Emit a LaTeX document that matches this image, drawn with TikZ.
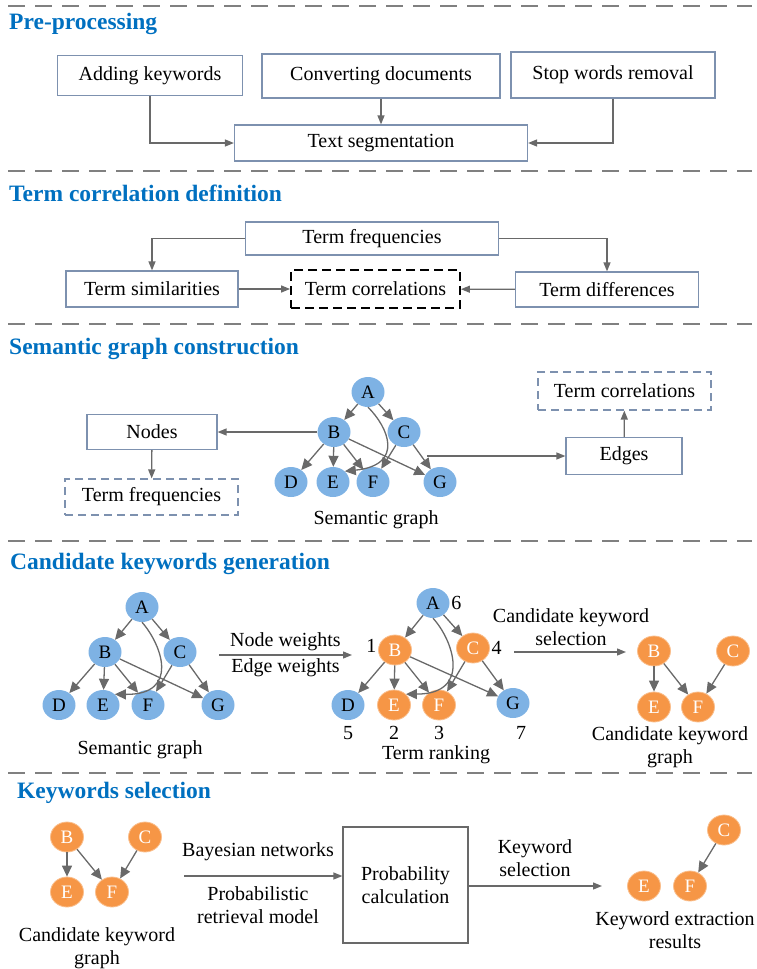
\documentclass[tikz,border=0pt]{standalone}
\usepackage{fontspec}
\IfFontExistsTF{LiberationSerif-Regular.ttf}
  {\setmainfont{LiberationSerif-Regular.ttf}[BoldFont=LiberationSerif-Bold.ttf]}
  {\setmainfont{Liberation Serif}}
\usepackage{tikz}
\usetikzlibrary{arrows.meta,positioning,calc,shapes.geometric}
\usepackage{xcolor}
\definecolor{headblue}{RGB}{0,112,192}
\definecolor{boxline}{RGB}{125,145,175}
\definecolor{arrowgrey}{RGB}{105,105,105}
\definecolor{sepgrey}{RGB}{128,128,128}
\definecolor{nodeblue}{RGB}{126,178,228}
\definecolor{nodeorange}{RGB}{246,150,70}
\definecolor{orangerim}{RGB}{250,190,140}
\newcommand{\bodytxt}{\rmfamily\fontsize{20}{23.5}\selectfont}
\newcommand{\headtxt}{\rmfamily\fontsize{23.5}{27}\selectfont\bfseries}
\newcommand{\nodetxt}{\rmfamily\fontsize{19}{22}\selectfont}

\begin{document}
\begin{tikzpicture}[x=1pt, y=-1pt,
    box/.style={rectangle, draw=boxline, line width=1.2pt, inner sep=0pt, align=center, font=\bodytxt},
    dbox/.style={box, dash pattern=on 8pt off 5pt},
    head/.style={anchor=base west, inner sep=0pt, font=\headtxt, text=headblue},
    lbl/.style={inner sep=0pt, align=center, font=\bodytxt},
    gnode/.style={ellipse, minimum width=33pt, minimum height=30pt, inner sep=0pt, font=\nodetxt},
    bnode/.style={gnode, fill=nodeblue},
    onode/.style={gnode, fill=nodeorange, draw=orangerim, line width=0.8pt, text=white},
    rank/.style={font=\bodytxt, inner sep=1.5pt},
    arrow/.style={-{Triangle[length=9pt,width=7pt]}, line width=1.3pt, draw=arrowgrey},
    edge/.style={-{Triangle[length=11pt,width=10pt]}, line width=1.3pt, draw=arrowgrey},
    sepline/.style={draw=sepgrey, line width=2pt, dash pattern=on 17pt off 10pt}
]
\useasboundingbox (0,0) rectangle (756,969);

% separators
\draw[sepline] (8,6) -- (752,6);
\draw[sepline] (8,171) -- (752,171);
\draw[sepline] (8,324) -- (752,324);
\draw[sepline] (8,541) -- (752,541);
\draw[sepline] (8,773) -- (752,773);

% Pre-processing
\node[head] (h1) at (9,29) {Pre-processing};
\node[box, minimum width=185pt, minimum height=40pt] (addkw) at (150,75.5) {Adding keywords};
\node[box, minimum width=238pt, minimum height=44pt] (convdoc) at (381,76) {Converting documents};
\node[box, minimum width=204pt, minimum height=46pt] (stopw) at (613,75) {Stop words removal};
\node[box, minimum width=293pt, minimum height=36pt] (textseg) at (381,143) {Text segmentation};

\draw[arrow] (addkw) |- (textseg);
\draw[arrow] (convdoc) -- (textseg);
\draw[arrow] (stopw) |- (textseg);

% Term correlation definition
\node[head] (h2) at (9,201) {Term correlation definition};
\node[box, minimum width=253pt, minimum height=33pt] (termfreq) at (372,238.5) {Term frequencies};
\node[box, minimum width=172pt, minimum height=36pt] (termsim) at (152,289) {Term similarities};
\node[box, draw=black, line width=1.8pt, dash pattern=on 9pt off 5pt, minimum width=169pt, minimum height=38pt] (termcor) at (375.5,289) {Term correlations};
\node[box, minimum width=183pt, minimum height=35pt] (termdiff) at (607,289.5) {Term differences};

\draw[arrow] (termfreq.west) -| (termsim.north);
\draw[arrow] (termfreq.east) -| (termdiff.north);
\draw[arrow] (termsim) -- (termcor);
\draw[arrow] (termdiff) -- (termcor);

% Semantic graph construction
\node[head] (h3) at (9,354) {Semantic graph construction};
\node[bnode] (sA) at (368,392) {A};
\node[bnode] (sB) at (334,432) {B};
\node[bnode] (sC) at (404,432) {C};
\node[bnode] (sD) at (291,482) {D};
\node[bnode] (sE) at (333,482) {E};
\node[bnode] (sF) at (373,482) {F};
\node[bnode] (sG) at (440,482) {G};
\node[lbl] (sgraph) at (376,520) {Semantic graph};

\draw[edge] (sA) -- (sB);
\draw[edge] (sA) -- (sC);
\draw[edge] (sA.south) .. controls (388,427) and (405,465) .. (sE.north east);
\draw[edge] (sB) -- (sD);
\draw[edge] (sB) -- (sE);
\draw[edge] (sB) -- (sF);
\draw[edge] (sB) -- (sG);
\draw[edge] (sC) -- (sF);
\draw[edge] (sC) -- (sG);

\node[box, minimum width=130pt, minimum height=35pt] (nodesbox) at (152,432) {Nodes};
\node[dbox, minimum width=173pt, minimum height=36pt] (tfdash) at (151.5,497) {Term frequencies};
\node[box, minimum width=116pt, minimum height=37pt] (edgesbox) at (624,456) {Edges};
\node[dbox, minimum width=173pt, minimum height=38pt] (tcdash) at (624.5,391) {Term correlations};
\coordinate (gtap) at (427,456);

\draw[arrow] (sB.west) -- (nodesbox.east);
\draw[arrow] (nodesbox) -- (tfdash);
\draw[arrow] (gtap) -- (edgesbox.west);
\draw[arrow] (edgesbox) -- (tcdash);

% Candidate keywords generation
\node[head] (h4) at (10,569) {Candidate keywords generation};
\node[bnode] (gA) at (142,607) {A};
\node[bnode] (gB) at (105,652) {B};
\node[bnode] (gC) at (180,652) {C};
\node[bnode] (gD) at (59,705) {D};
\node[bnode] (gE) at (103,705) {E};
\node[bnode] (gF) at (148,705) {F};
\node[bnode] (gG) at (218,705) {G};
\node[lbl] (ggraph) at (140,750) {Semantic graph};

\draw[edge] (gA) -- (gB);
\draw[edge] (gA) -- (gC);
\draw[edge] (gA.south) .. controls (162,645) and (180,695) .. (gE.north east);
\draw[edge] (gB) -- (gD);
\draw[edge] (gB) -- (gE);
\draw[edge] (gB) -- (gF);
\draw[edge] (gB) -- (gG);
\draw[edge] (gC) -- (gF);
\draw[edge] (gC) -- (gG);

\coordinate (w1) at (219,655);
\coordinate (w2) at (352,655);
\draw[arrow] (w1) -- node[above, font=\bodytxt] (nodew) {Node weights} node[below, font=\bodytxt] (edgew) {Edge weights} (w2);

\node[bnode, label={[rank]right:6}] (rA) at (433,603) {A};
\node[onode, label={[rank, yshift=4pt]left:1}] (rB) at (395,650) {B};
\node[onode, label={[rank]right:4}] (rC) at (473,648) {C};
\node[bnode, label={[rank, yshift=-4pt]below:5}] (rD) at (348,705) {D};
\node[onode, label={[rank, yshift=-4pt]below:2}] (rE) at (394,705) {E};
\node[onode, label={[rank, yshift=-4pt]below:3}] (rF) at (439,705) {F};
\node[bnode, label={[rank, xshift=8pt, yshift=-6pt]below:7}] (rG) at (513,703) {G};
\node[lbl] (rgraph) at (436,755) {Term ranking};

\draw[edge] (rA) -- (rB);
\draw[edge] (rA) -- (rC);
\draw[edge] (rA.south) .. controls (453,640) and (472,694) .. (rE.north east);
\draw[edge] (rB) -- (rD);
\draw[edge] (rB) -- (rE);
\draw[edge] (rB) -- (rF);
\draw[edge] (rB) -- (rG);
\draw[edge] (rC) -- (rF);
\draw[edge] (rC) -- (rG);

\coordinate (s1) at (514,652);
\coordinate (s2) at (626,652);
\draw[arrow] (s1) -- (s2);
\node[lbl] (candsel) at (571,627) {Candidate keyword\\selection};

\node[onode] (cB) at (654,651) {B};
\node[onode] (cC) at (733,651) {C};
\node[onode] (cE) at (654,707) {E};
\node[onode] (cF) at (698,707) {F};
\node[lbl] (cgraph) at (670,747) {Candidate keyword\\graph};

\draw[edge] (cB) -- (cE);
\draw[edge] (cB) -- (cF);
\draw[edge] (cC) -- (cF);

% Keywords selection
\node[head] (h5) at (17,798) {Keywords selection};
\node[onode] (kB) at (67,837) {B};
\node[onode] (kC) at (145,837) {C};
\node[onode] (kE) at (67,892) {E};
\node[onode] (kF) at (112,892) {F};
\node[lbl] (kgraph) at (97,948) {Candidate keyword\\graph};

\draw[edge] (kB) -- (kE);
\draw[edge] (kB) -- (kF);
\draw[edge] (kC) -- (kF);

\coordinate (b1) at (184,876);
\node[lbl] (bayes) at (258,852) {Bayesian networks};
\node[lbl] (probret) at (258,905) {Probabilistic\\retrieval model};
\node[box, draw=arrowgrey, minimum width=125pt, minimum height=116pt] (probbox) at (405.5,885) {Probability\\calculation};
\draw[arrow] (b1) -- (probbox.west |- b1);

\coordinate (k2) at (602,886);
\draw[arrow] (probbox.east |- k2) -- (k2);
\node[lbl] (kwsel) at (535,858) {Keyword\\selection};

\node[onode] (xE) at (644,886) {E};
\node[onode] (xF) at (690,886) {F};
\node[onode] (xC) at (724,830) {C};
\node[lbl] (xres) at (675,930) {Keyword extraction\\results};

\draw[edge] (xC) -- (xF);
\end{tikzpicture}
\end{document}
